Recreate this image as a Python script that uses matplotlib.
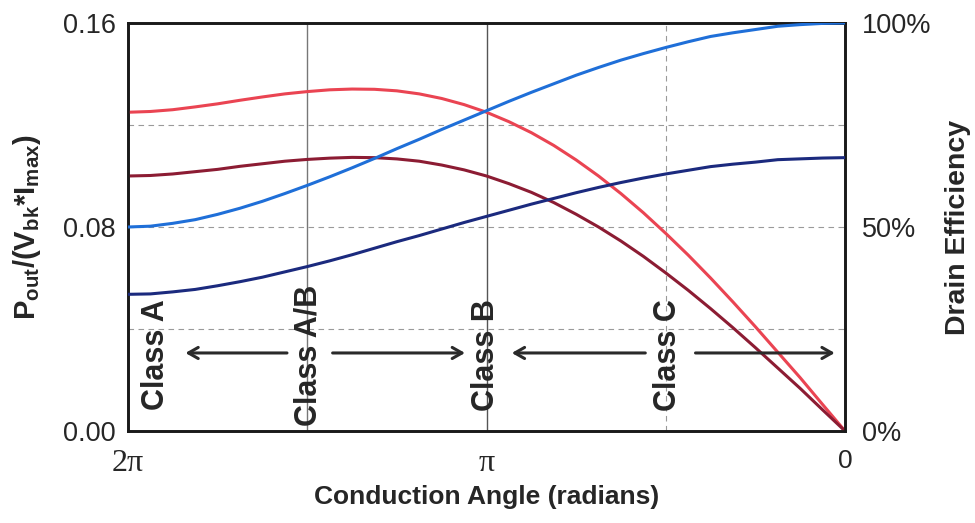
import numpy as np
import matplotlib
matplotlib.use("Agg")
import matplotlib.pyplot as plt

plt.rcParams['font.family'] = ['Liberation Sans', 'DejaVu Sans']
plt.rcParams['mathtext.fontset'] = 'custom'
plt.rcParams['mathtext.rm'] = 'Liberation Sans'
plt.rcParams['mathtext.bf'] = 'Liberation Sans:bold'
plt.rcParams['mathtext.it'] = 'Liberation Sans:italic'

# Conduction angle samples (in units of pi/16), from 0 to 2*pi
angle_steps = list(range(33))

# Normalized output power Pout/(Vbk*Imax), ideal (light red)
pout_ideal = [0.0000, 0.0104, 0.0209, 0.0309, 0.0409, 0.0506, 0.0600, 0.0690,
              0.0775, 0.0856, 0.0931, 0.1000, 0.1063, 0.1120, 0.1170, 0.1213,
              0.1250, 0.1280, 0.1304, 0.1322, 0.1334, 0.1340, 0.1341, 0.1338,
              0.1331, 0.1322, 0.1310, 0.1297, 0.1283, 0.1271, 0.1260, 0.1253,
              0.1250]

# Normalized output power, with knee (dark red)
pout_knee = [0.0000, 0.0083, 0.0167, 0.0247, 0.0327, 0.0405, 0.0480, 0.0552,
             0.0620, 0.0685, 0.0745, 0.0800, 0.0850, 0.0896, 0.0936, 0.0970,
             0.1000, 0.1024, 0.1043, 0.1058, 0.1067, 0.1072, 0.1073, 0.1070,
             0.1065, 0.1058, 0.1048, 0.1038, 0.1026, 0.1017, 0.1008, 0.1002,
             0.1000]

# Drain efficiency (%), ideal (light blue)
eff_ideal = [100.0, 99.9, 99.6, 99.2, 98.4, 97.6, 96.7, 95.4, 94.0, 92.5, 90.9,
             89.1, 87.2, 85.1, 83.0, 80.8, 78.5, 76.2, 73.9, 71.5, 69.2, 66.8,
             64.5, 62.3, 60.2, 58.2, 56.3, 54.6, 53.1, 51.8, 50.9, 50.2, 50.0]

# Drain efficiency (%), with knee (dark blue)
eff_knee = [67.0, 66.9, 66.7, 66.5, 65.9, 65.4, 64.8, 63.9, 63.0, 62.0, 60.9,
            59.7, 58.4, 57.0, 55.6, 54.1, 52.6, 51.1, 49.5, 47.9, 46.4, 44.8,
            43.2, 41.7, 40.3, 39.0, 37.7, 36.6, 35.6, 34.7, 34.1, 33.6, 33.5]

x_tick_labels = ['2π', 'π', '0']
left_tick_labels = ['0.00', '0.08', '0.16']
right_tick_labels = ['0%', '50%', '100%']
class_labels = ['Class A', 'Class A/B', 'Class B', 'Class C']

angles = np.array(angle_steps) * np.pi / 16

LIGHT_RED = '#ea4452'
DARK_RED = '#8c1c33'
LIGHT_BLUE = '#1f6fd8'
DARK_BLUE = '#1b2a7e'
TXT = '#262626'

fig = plt.figure(figsize=(9.75, 5.23), dpi=100)
ax = fig.add_axes([128 / 975, 1 - 431 / 523, 717 / 975, 408 / 523])
ax2 = ax.twinx()

ax.set_xlim(2 * np.pi, 0)
ax.set_ylim(0, 0.16)
ax2.set_ylim(0, 100)

# grid lines
for yv in (0.04, 0.08, 0.12):
    ax.axhline(yv, color='#9a9a9a', lw=0.8, ls=(0, (5, 4)), zorder=0.5)
ax.axvline(1.5 * np.pi, color='#777777', lw=1.0, zorder=0.5)
ax.axvline(np.pi, color='#555555', lw=1.0, zorder=0.5)
ax.axvline(0.5 * np.pi, color='#9a9a9a', lw=0.8, ls=(0, (5, 4)), zorder=0.5)

ax.plot(angles, pout_ideal, color=LIGHT_RED, lw=2.2, zorder=3)
ax.plot(angles, pout_knee, color=DARK_RED, lw=2.2, zorder=3)
ax2.plot(angles, eff_ideal, color=LIGHT_BLUE, lw=2.2, zorder=3)
ax2.plot(angles, eff_knee, color=DARK_BLUE, lw=2.2, zorder=3)

# ticks
ax.set_xticks([2 * np.pi, np.pi, 0])
ax.set_xticklabels(x_tick_labels)
ax.tick_params(axis='x', length=0, pad=13, labelsize=19, labelcolor=TXT)
for lab in ax.get_xticklabels():
    if 'π' in lab.get_text():
        lab.set_fontfamily(['Liberation Serif', 'DejaVu Serif'])
        lab.set_fontsize(23)
ax.set_yticks([0, 0.08, 0.16])
ax.set_yticklabels(left_tick_labels)
ax.tick_params(axis='y', length=0, pad=9, labelsize=19.5, labelcolor=TXT)
ax2.set_yticks([0, 50, 100])
ax2.set_yticklabels(right_tick_labels)
ax2.tick_params(axis='y', length=0, pad=12, labelsize=19.5, labelcolor=TXT)

for a in (ax, ax2):
    for s in a.spines.values():
        s.set_linewidth(1.9)
        s.set_color('#1a1a1a')

ax.set_xlabel('Conduction Angle (radians)', fontsize=19, fontweight='bold',
              color=TXT, labelpad=5)
ax.set_ylabel(r'$\mathbf{P_{out}/(V_{bk}{*}I_{max})}$', fontsize=21,
              color=TXT, labelpad=14)
ax2.set_ylabel('Drain Efficiency', fontsize=20.5, fontweight='bold',
               color=TXT, labelpad=10)

# class labels
label_pos = [6.04, 4.70, np.pi, 1.55]
for xp, txt in zip(label_pos, class_labels):
    ax.text(xp, 0.0298, txt, rotation=90, ha='center', va='center',
            fontsize=22, fontweight='bold', color=TXT, zorder=4)

# arrows
arrow_y = 0.0306
arrows = [(4.89, 5.78), (4.49, 3.33), (1.75, 2.92), (1.31, 0.09)]
for tail, head in arrows:
    ax.annotate('', xy=(head, arrow_y), xytext=(tail, arrow_y),
                arrowprops=dict(arrowstyle='->,head_length=0.7,head_width=0.4',
                                lw=2.2, color='#2a2a2a', shrinkA=0, shrinkB=0),
                zorder=4)

fig.savefig('out.png', dpi=100)
